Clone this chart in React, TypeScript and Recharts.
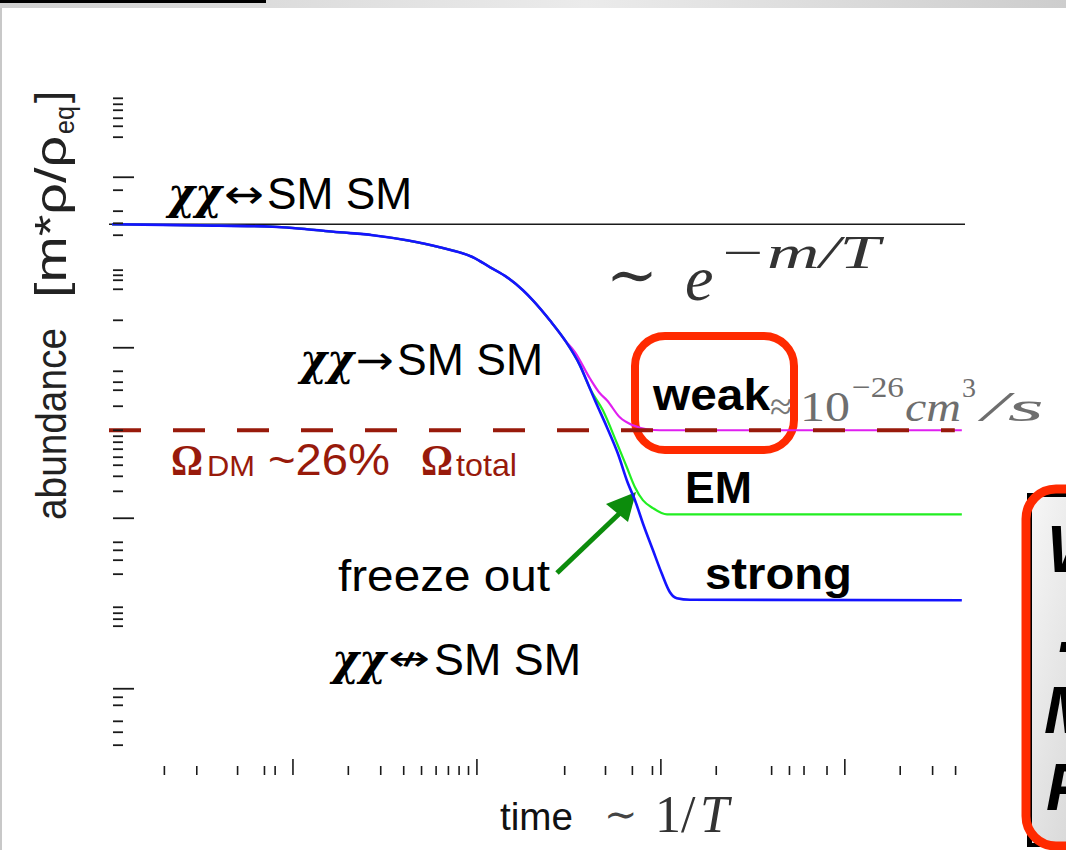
import React from 'react';
import { ComposedChart, Line, XAxis, YAxis, ReferenceLine, Customized } from 'recharts';

// x: time ~ m/T (log scale), y: log10 of the comoving abundance
const sharedT = [0.104, 0.313, 0.778, 1.8, 2.72, 4.17, 6.29, 9.51, 11.8, 14.6, 17.8, 20.1, 24.9, 30.1];
const sharedY = [-0.276, -0.282, -0.29, -0.323, -0.34, -0.37, -0.411, -0.469, -0.528, -0.587, -0.663, -0.721, -0.839, -0.956];

const strongT = [36.3, 41.1, 43.8, 50.9, 58.3, 66.2, 72.3, 79.8, 90.6, 101, 112, 122, 144, 4325];
const strongY = [-1.103, -1.238, -1.308, -1.466, -1.619, -1.795, -1.894, -2.029, -2.188, -2.323, -2.434, -2.469, -2.478, -2.481];

const emT = [36.3, 41.1, 48.4, 57.7, 65.3, 72.3, 79.8, 90.6, 108, 4325];
const emY = [-1.103, -1.238, -1.367, -1.56, -1.701, -1.818, -1.894, -1.941, -1.977, -1.977];

const weakT = [34.1, 41.1, 46.6, 50.9, 59.8, 70.5, 83.9, 98.9, 4325];
const weakY = [-1.026, -1.179, -1.267, -1.308, -1.408, -1.455, -1.478, -1.484, -1.484];

const equilibriumLevel = -0.276;
const omegaDMLevel = -1.484;

const xTicks = [0.2, 0.3, 0.5, 0.7, 0.8, 1, 2, 3, 4, 5, 6, 7, 8, 9, 10, 30, 50, 70, 90, 100, 200, 400, 500, 600, 800, 1000, 2000, 3000, 4000];
const xMajorTicks = [1, 10, 100, 1000];

const yTicks = [0.463, 0.428, 0.393, 0.346, 0.299, 0.235, 0, -0.076, -0.199, -0.27, -0.34, -0.545, -0.575, -0.604, -0.657, -0.839, -1, -1.138, -1.202, -1.249, -1.343, -1.484, -1.519, -1.554, -1.595, -1.642, -1.689, -1.754, -1.842, -2, -2.141, -2.188, -2.246, -2.328, -2.522, -2.557, -2.592, -2.633, -3, -3.05, -3.097, -3.191, -3.255, -3.331];
const yMajorTicks = [0, -1, -2, -3];

const zip = (ts: number[], ys: number[]) => ts.map((t, i) => ({ t, y: ys[i] }));
const strongData = zip([...sharedT, ...strongT], [...sharedY, ...strongY]);
const emData = zip([...sharedT, ...emT], [...sharedY, ...emY]);
const weakData = zip([...sharedT, ...weakT], [...sharedY, ...weakY]);

const isMajor = (v: number, list: number[]) => list.some((m) => Math.abs(m - v) < 1e-9);

const XTick = (props: any) => {
  const { x, y, payload } = props;
  const len = isMajor(payload.value, xMajorTicks) ? 16 : 9;
  return <line x1={x} x2={x} y1={y + 1} y2={y + 1 - len} stroke="#1a1a1a" strokeWidth={1.6} />;
};

const YTick = (props: any) => {
  const { x, y, payload } = props;
  const len = isMajor(payload.value, yMajorTicks) ? 21 : 10;
  return <line x1={x + 4} x2={x + 4 + len} y1={y} y2={y} stroke="#1a1a1a" strokeWidth={1.8} />;
};

const SANS = 'Liberation Sans, Arial, sans-serif';
const SERIF = 'Liberation Serif, DejaVu Serif, serif';
const CHI = 'DejaVu Serif, Liberation Serif, serif';
const ARROW = 'DejaVu Sans, sans-serif';
const DARKRED = '#981a0b';
const REDBOX = '#ff2a00';

const Decor = () => (
  <g>
    <defs>
      <linearGradient id="topStrip" x1="0" x2="1" y1="0" y2="0">
        <stop offset="0" stopColor="#cfcfcf" />
        <stop offset="0.55" stopColor="#ebebeb" />
        <stop offset="1" stopColor="#cdcdcd" />
      </linearGradient>
      <linearGradient id="sideBox" x1="0" x2="1" y1="0" y2="1">
        <stop offset="0" stopColor="#f6f6f6" />
        <stop offset="1" stopColor="#cfcfcf" />
      </linearGradient>
    </defs>
    {/* slide frame */}
    <rect x={0} y={0} width={1066} height={8} fill="url(#topStrip)" />
    <rect x={0} y={0} width={266} height={3} fill="#000" />
    <rect x={0} y={8} width={2} height={842} fill="#c8c8c8" />

    {/* y axis label */}
    <text transform="translate(66,520) rotate(-90)" fontFamily={SANS} fontSize={42} fill="#222" textLength={192} lengthAdjust="spacingAndGlyphs">abundance</text>
    <text transform="translate(66,298) rotate(-90)" fontFamily={SANS} fontSize={44} fill="#222" textLength={162} lengthAdjust="spacingAndGlyphs">[m*ρ/ρ</text>
    <text transform="translate(74,134) rotate(-90)" fontFamily={SANS} fontSize={28} fill="#222" textLength={28} lengthAdjust="spacingAndGlyphs">eq</text>
    <text transform="translate(66,103) rotate(-90)" fontFamily={SANS} fontSize={44} fill="#222">]</text>

    {/* x axis label */}
    <text x={500} y={830} fontFamily={SANS} fontSize={38} fill="#111" textLength={73} lengthAdjust="spacingAndGlyphs">time</text>
    <text x={604} y={828} fontFamily={SERIF} fontSize={40} fill="#444">∼</text>
    <text x={655} y={832} fontFamily={SERIF} fontSize={52} fill="#333">1/</text>
    <text x={700} y={832} fontFamily={SERIF} fontStyle="italic" fontSize={52} fill="#333">T</text>

    {/* reaction labels */}
    <text x={168} y={209} fontFamily={CHI} fontStyle="italic" fontWeight="bold" fontSize={44} fill="#000" textLength={54} lengthAdjust="spacingAndGlyphs">χχ</text>
    <text x={224} y={208} fontFamily={ARROW} fontSize={40} fill="#000" textLength={40} lengthAdjust="spacingAndGlyphs">↔</text>
    <text x={267} y={209} fontFamily={SANS} fontSize={45} fill="#000" textLength={145} lengthAdjust="spacingAndGlyphs">SM SM</text>

    <text x={300} y={375} fontFamily={CHI} fontStyle="italic" fontWeight="bold" fontSize={44} fill="#000" textLength={54} lengthAdjust="spacingAndGlyphs">χχ</text>
    <text x={356} y={374} fontFamily={ARROW} fontSize={40} fill="#000" textLength={38} lengthAdjust="spacingAndGlyphs">→</text>
    <text x={397} y={375} fontFamily={SANS} fontSize={45} fill="#000" textLength={146} lengthAdjust="spacingAndGlyphs">SM SM</text>

    <text x={332} y={675} fontFamily={CHI} fontStyle="italic" fontWeight="bold" fontSize={44} fill="#000" textLength={54} lengthAdjust="spacingAndGlyphs">χχ</text>
    <text x={388} y={670} fontFamily={ARROW} fontSize={34} fill="#000" textLength={42} lengthAdjust="spacingAndGlyphs">↮</text>
    <text x={434} y={675} fontFamily={SANS} fontSize={45} fill="#000" textLength={147} lengthAdjust="spacingAndGlyphs">SM SM</text>

    {/* Boltzmann suppression */}
    <text x={606} y={296} fontFamily={SERIF} fontSize={62} fill="#333">∼</text>
    <text x={685} y={300} fontFamily={SERIF} fontStyle="italic" fontSize={64} fill="#333">e</text>
    <text x={718} y={268} fontFamily={SERIF} fontStyle="italic" fontSize={46} fill="#333" textLength={162} lengthAdjust="spacingAndGlyphs">−m/T</text>

    {/* relic density */}
    <text x={171} y={475} fontFamily={SERIF} fontWeight="bold" fontSize={44} fill={DARKRED} textLength={32} lengthAdjust="spacingAndGlyphs">Ω</text>
    <text x={207} y={476} fontFamily={SANS} fontSize={30} fill={DARKRED} textLength={48} lengthAdjust="spacingAndGlyphs">DM</text>
    <text x={268} y={475} fontFamily={SANS} fontSize={45} fill={DARKRED} textLength={122} lengthAdjust="spacingAndGlyphs">~26%</text>
    <text x={421} y={475} fontFamily={SERIF} fontWeight="bold" fontSize={44} fill={DARKRED} textLength={32} lengthAdjust="spacingAndGlyphs">Ω</text>
    <text x={456} y={476} fontFamily={SANS} fontSize={32} fill={DARKRED} textLength={61} lengthAdjust="spacingAndGlyphs">total</text>

    {/* interaction strengths */}
    <text x={770} y={420} fontFamily={SERIF} fontSize={40} fill="#777">≈</text>
    <text x={800} y={421} fontFamily={SERIF} fontSize={42} fill="#6e6e6e" textLength={50} lengthAdjust="spacingAndGlyphs">10</text>
    <text x={852} y={397} fontFamily={SERIF} fontSize={30} fill="#6e6e6e" textLength={52} lengthAdjust="spacingAndGlyphs">−26</text>
    <text x={905} y={421} fontFamily={SERIF} fontStyle="italic" fontSize={42} fill="#6e6e6e" textLength={56} lengthAdjust="spacingAndGlyphs">cm</text>
    <text x={962} y={397} fontFamily={SERIF} fontSize={28} fill="#6e6e6e">3</text>
    <text x={982} y={421} fontFamily={SERIF} fontStyle="italic" fontSize={42} fill="#6e6e6e" textLength={62} lengthAdjust="spacingAndGlyphs">/s</text>

    <text x={653} y={410} fontFamily={SANS} fontWeight="bold" fontSize={45} fill="#000" textLength={117} lengthAdjust="spacingAndGlyphs">weak</text>
    <text x={685} y={503} fontFamily={SANS} fontWeight="bold" fontSize={45} fill="#000" textLength={67} lengthAdjust="spacingAndGlyphs">EM</text>
    <text x={705} y={589} fontFamily={SANS} fontWeight="bold" fontSize={45} fill="#000" textLength={147} lengthAdjust="spacingAndGlyphs">strong</text>

    <text x={338} y={591} fontFamily={SANS} fontSize={45} fill="#000" textLength={212} lengthAdjust="spacingAndGlyphs">freeze out</text>

    {/* freeze-out arrow */}
    <line x1={557} y1={573} x2={620} y2={513} stroke="#0c8c0c" strokeWidth={5} />
    <polygon points="606,504 636,492 628,522" fill="#0c8c0c" />

    {/* red box round "weak" */}
    <rect x={635} y={336} width={159} height={114} rx={30} ry={30} fill="none" stroke={REDBOX} strokeWidth={8} />

    {/* side box (cut off at the right edge) */}
    <rect x={1027} y={493} width={80} height={354} fill="#000" />
    <rect x={1032} y={497} width={80} height={346} fill="url(#sideBox)" />
    <g fontFamily={SANS} fontWeight="bold" fontStyle="italic" fontSize={66} fill="#000">
      <text x={1047} y={572}>W</text>
      <text x={1058} y={652}>.</text>
      <text x={1044} y={733}>M</text>
      <text x={1046} y={810}>P</text>
    </g>
    <rect x={1026} y={489} width={90} height={357} rx={30} ry={30} fill="none" stroke={REDBOX} strokeWidth={9} />
  </g>
);

export default function App() {
  return (
    <div style={{ position: 'fixed', left: 0, top: 0, width: 1066, height: 850, overflow: 'hidden', background: '#fff' }}>
      <ComposedChart width={1066} height={850} margin={{ top: 92, right: 101, bottom: 46, left: 109 }}>
        <XAxis
          dataKey="t"
          type="number"
          scale="log"
          domain={[0.1, 4500]}
          allowDataOverflow
          ticks={xTicks}
          interval={0}
          height={30}
          axisLine={false}
          tickLine={false}
          tickSize={0}
          tickMargin={0}
          tick={<XTick />}
        />
        <YAxis
          type="number"
          domain={[-3.5, 0.5]}
          allowDataOverflow
          ticks={yTicks}
          interval={0}
          mirror
          axisLine={false}
          tickLine={false}
          tickSize={0}
          tickMargin={0}
          tick={<YTick />}
        />
        <ReferenceLine y={equilibriumLevel} stroke="#1a1a1a" strokeWidth={1.6} />
        <Line data={weakData} dataKey="y" type="monotone" stroke="#e01ff0" strokeWidth={2.2} dot={false} isAnimationActive={false} />
        <Line data={emData} dataKey="y" type="monotone" stroke="#22ee22" strokeWidth={2.2} dot={false} isAnimationActive={false} />
        <Line data={strongData} dataKey="y" type="monotone" stroke="#1414ff" strokeWidth={2.6} dot={false} isAnimationActive={false} />
        <ReferenceLine
          segment={[{ x: 0.1, y: omegaDMLevel }, { x: 3960, y: omegaDMLevel }]}
          stroke={DARKRED}
          strokeWidth={4}
          strokeDasharray="32 32"
        />
        <Customized component={Decor} />
      </ComposedChart>
    </div>
  );
}
